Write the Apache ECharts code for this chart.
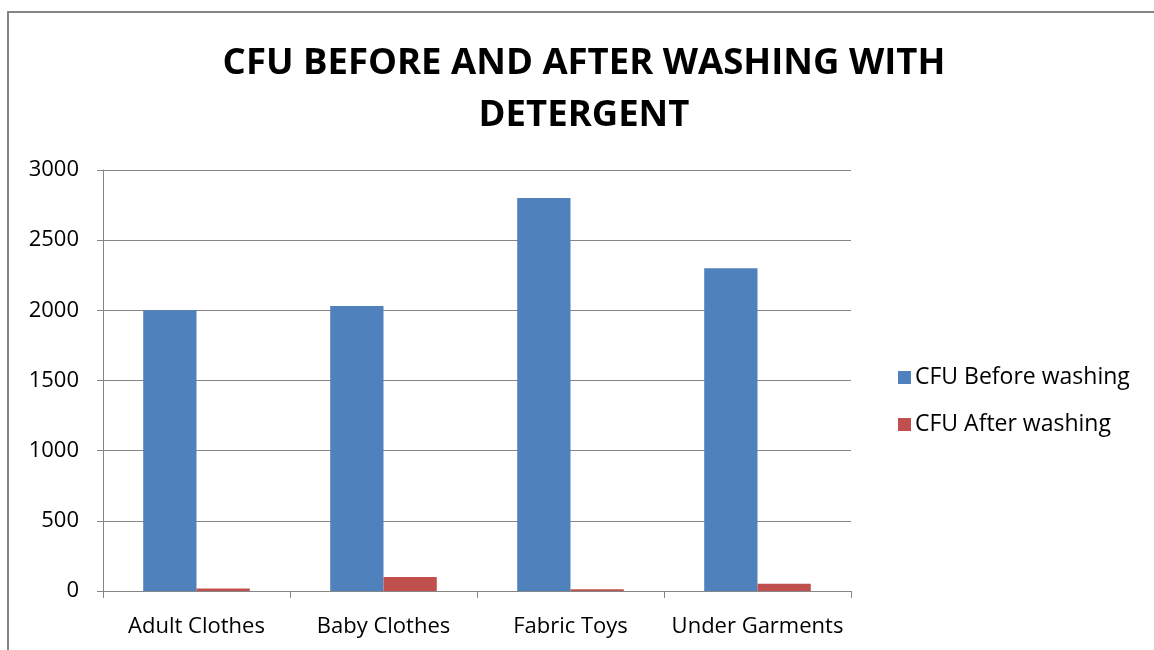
<!DOCTYPE html>
<html><head><meta charset="utf-8">
<script src="https://cdn.jsdelivr.net/npm/echarts@6/dist/echarts.min.js"></script>
<style>html,body{margin:0;padding:0;background:#fff}#c{width:1154px;height:650px}</style>
</head><body><div id="c"></div>
<script>
const categories = ['Adult Clothes', 'Baby Clothes', 'Fabric Toys', 'Under Garments'];
const beforeWashing = [2000, 2030, 2800, 2300];
const afterWashing = [18, 100, 12, 52];
const yTicks = {min: 0, max: 3000, interval: 500};

const chart = echarts.init(document.getElementById('c'));
const font = '"Open Sans", sans-serif';
chart.setOption({
  animation: false,
  title: {
    text: 'CFU BEFORE AND AFTER WASHING WITH\nDETERGENT',
    left: 579, top: 33, textAlign: 'center',
    textStyle: {fontFamily: font, fontWeight: 'bold', fontSize: 36.5, lineHeight: 52, color: '#000'}
  },
  graphic: [{type: 'rect', shape: {x: 8, y: 12, width: 1300, height: 800}, style: {fill: 'none', stroke: '#868686', lineWidth: 2}, silent: true}],
  legend: {
    orient: 'vertical', left: 893, top: 361, itemGap: 24, itemWidth: 13, itemHeight: 13,
    icon: 'rect',
    textStyle: {fontFamily: font, fontSize: 23, color: '#000', padding: [0, 0, 0, -1]},
    data: ['CFU Before washing', 'CFU After washing']
  },
  grid: {left: 103, right: 303, top: 170, bottom: 59, containLabel: false},
  xAxis: {
    type: 'category', data: categories,
    axisLine: {lineStyle: {color: '#868686', width: 1}},
    axisTick: {show: true, length: 7, lineStyle: {color: '#868686'}},
    axisLabel: {fontFamily: font, fontSize: 22, color: '#000', margin: 25, interval: 0}
  },
  yAxis: {
    type: 'value', min: yTicks.min, max: yTicks.max, interval: yTicks.interval,
    axisLine: {show: true, lineStyle: {color: '#868686'}},
    axisTick: {show: true, length: 6, lineStyle: {color: '#868686'}},
    splitLine: {lineStyle: {color: '#868686', width: 1}},
    axisLabel: {fontFamily: font, fontSize: 22, color: '#000', margin: 24, formatter: v => String(v)}
  },
  series: [
    {name: 'CFU Before washing', type: 'bar', data: beforeWashing, barGap: '0%', barCategoryGap: '43%', itemStyle: {color: '#4F81BD'}},
    {name: 'CFU After washing', type: 'bar', data: afterWashing, barGap: '0%', barCategoryGap: '43%', itemStyle: {color: '#C0504D'}}
  ]
});
</script></body></html>
